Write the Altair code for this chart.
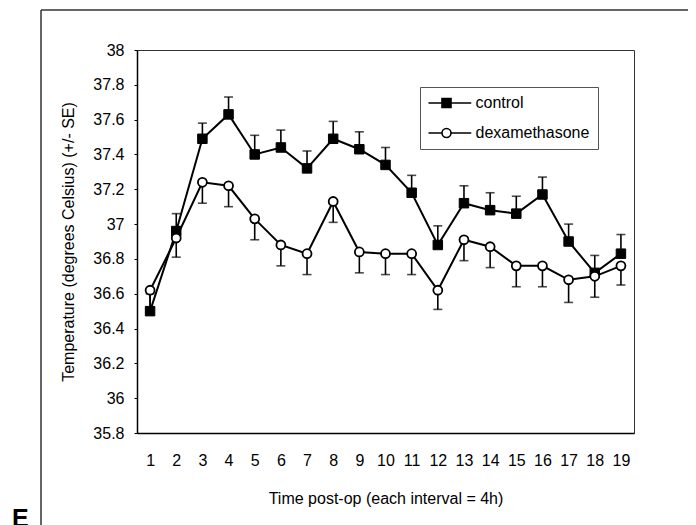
import altair as alt
import pandas as pd

# ---- data ----
time_points = list(range(1, 20))
control = [36.50, 36.96, 37.49, 37.63, 37.40, 37.44, 37.32, 37.49, 37.43, 37.34,
           37.18, 36.88, 37.12, 37.08, 37.06, 37.17, 36.90, 36.72, 36.83]
control_se = [0.10, 0.10, 0.09, 0.10, 0.11, 0.10, 0.10, 0.10, 0.10, 0.10,
              0.10, 0.11, 0.10, 0.10, 0.10, 0.10, 0.10, 0.10, 0.11]
dexamethasone = [36.62, 36.92, 37.24, 37.22, 37.03, 36.88, 36.83, 37.13, 36.84, 36.83,
                 36.83, 36.62, 36.91, 36.87, 36.76, 36.76, 36.68, 36.70, 36.76]
dexamethasone_se = [0.10, 0.11, 0.12, 0.12, 0.12, 0.12, 0.12, 0.12, 0.12, 0.12,
                    0.12, 0.11, 0.12, 0.12, 0.12, 0.12, 0.13, 0.12, 0.11]
series_names = ["control", "dexamethasone"]
y_ticks = [35.8, 36.0, 36.2, 36.4, 36.6, 36.8, 37.0, 37.2, 37.4, 37.6, 37.8, 38.0]

rows = []
for t, v, s in zip(time_points, control, control_se):
    rows.append({"t": t, "series": "control", "value": v, "se": s, "dir": 1})
for t, v, s in zip(time_points, dexamethasone, dexamethasone_se):
    rows.append({"t": t, "series": "dexamethasone", "value": v, "se": s, "dir": -1})
df = pd.DataFrame(rows)

FONT = "Liberation Sans"

x_axis = alt.Axis(values=time_points, title="Time post-op (each interval = 4h)",
                  grid=False, tickSize=0, labelPadding=19, titlePadding=22,
                  labelOverlap=False, labelFlush=False)
y_axis = alt.Axis(values=y_ticks, format="~g", grid=False, tickSize=3,
                  labelPadding=10, titlePadding=16, labelOverlap=False,
                  labelFlush=False, title="Temperature (degrees Celsius) (+/- SE)")
x_scale = alt.Scale(domain=[0.5, 19.5], nice=False)
y_scale = alt.Scale(domain=[35.8, 38.0], nice=False, zero=False)

def X():
    return alt.X("t:Q", scale=x_scale, axis=x_axis)

def Y(field="value"):
    return alt.Y(f"{field}:Q", scale=y_scale, axis=y_axis)

base = alt.Chart(df).transform_calculate(err_end="datum.value + datum.dir * datum.se")

lines = base.mark_line(color="black", strokeWidth=2).encode(x=X(), y=Y(), detail="series:N")
err_rule = base.mark_rule(color="black", strokeWidth=1.6).encode(
    x=X(), y=Y(), y2="err_end:Q")
err_cap = base.mark_tick(color="black", thickness=1.6, size=9, orient="horizontal").encode(
    x=X(), y=Y("err_end"))

pts_ctrl = base.transform_filter(alt.datum.series == "control").mark_point(
    shape="square", filled=True, fill="black", stroke="black", strokeWidth=1,
    size=90, opacity=1).encode(x=X(), y=Y())
pts_dex = base.transform_filter(alt.datum.series == "dexamethasone").mark_point(
    shape="circle", filled=True, fill="white", stroke="black", strokeWidth=1.8,
    size=80, opacity=1).encode(x=X(), y=Y())

sq_path = "M-4,0H-1M1,0H5.5M-1,-1H1V1H-1Z"
ci_path = "M-4,0H-1M1,0H5.5M-1,0A1,1 0 1,0 1,0A1,1 0 1,0 -1,0Z"
leg = dict(orient="none", legendX=283, legendY=37, padding=8, symbolOffset=10.5,
           strokeColor="#555", fillColor="white", labelFont=FONT, labelFontSize=16,
           labelColor="black", labelOffset=21, rowPadding=14, symbolSize=81,
           symbolStrokeColor="black", symbolStrokeWidth=1.6, symbolOpacity=1, title=None)
legend_layer = base.mark_point(opacity=0, strokeWidth=1.6).encode(
    x=X(), y=Y(),
    shape=alt.Shape("series:N", scale=alt.Scale(domain=series_names, range=[sq_path, ci_path]),
                    legend=alt.Legend(**leg)),
    fill=alt.Fill("series:N", scale=alt.Scale(domain=series_names, range=["black", "white"]),
                  legend=alt.Legend(**leg)),
    stroke=alt.Stroke("series:N", scale=alt.Scale(domain=series_names, range=["black", "black"]),
                      legend=alt.Legend(**leg)),
)

deco = alt.Chart(pd.DataFrame({"k": [0]}))
frame_left = deco.mark_rule(color="#333", strokeWidth=1.5).encode(
    x=alt.value(-96), y=alt.value(-40), y2=alt.value(480))
frame_top = deco.mark_rule(color="#333", strokeWidth=1.5).encode(
    x=alt.value(-96), x2=alt.value(560), y=alt.value(-40))
letter = deco.mark_text(text="E", font=FONT, fontSize=25, fontWeight="bold",
                        align="left", baseline="alphabetic", color="black").encode(
    x=alt.value(-125), y=alt.value(477))

chart = alt.layer(lines, err_rule, err_cap, legend_layer, pts_ctrl, pts_dex,
                  frame_left, frame_top, letter).properties(
    width=497, height=383,
    autosize=alt.AutoSizeParams(type="none"),
    padding={"left": 129, "top": 42, "right": 54, "bottom": 92},
).configure_view(stroke="#333", strokeWidth=1).configure_axis(
    labelFont=FONT, titleFont=FONT, labelFontSize=16, titleFontSize=16,
    labelColor="black", titleColor="black", titleFontWeight="normal",
    domainColor="black", domainWidth=1.5, tickColor="black", labelOverlap=False,
)

chart.save("out.html", embed_options={"renderer": "svg", "actions": False})
